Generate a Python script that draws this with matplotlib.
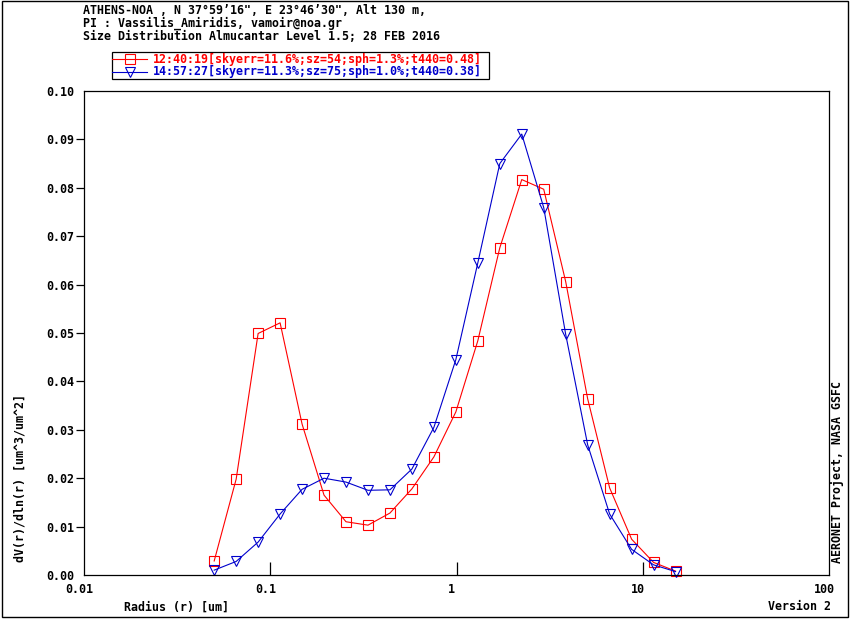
import matplotlib
matplotlib.use("Agg")
import matplotlib.pyplot as plt
from matplotlib.lines import Line2D
from matplotlib.patches import Rectangle
from matplotlib.ticker import FixedLocator, NullLocator
import matplotlib.transforms as mtransforms

radius = [0.05, 0.065604, 0.086077, 0.112939, 0.148184, 0.194429, 0.255105,
          0.334716, 0.439173, 0.576227, 0.756052, 0.991996, 1.301571, 1.707757,
          2.240702, 2.939966, 3.857452, 5.061260, 6.640745, 8.713145,
          11.432287, 15.0]
dv_1240 = [0.0029, 0.0198, 0.0499, 0.0521, 0.0312, 0.0165, 0.0110, 0.0103,
           0.0128, 0.0178, 0.0244, 0.0337, 0.0484, 0.0676, 0.0817, 0.0797,
           0.0606, 0.0364, 0.0180, 0.0074, 0.0026, 0.0008]
dv_1457 = [0.0010, 0.0028, 0.0068, 0.0126, 0.0177, 0.0200, 0.0192, 0.0175,
           0.0176, 0.0219, 0.0305, 0.0445, 0.0645, 0.0850, 0.0911, 0.0759,
           0.0497, 0.0269, 0.0126, 0.0053, 0.0021, 0.0007]
label_1240 = "12:40:19[skyerr=11.6%;sz=54;sph=1.3%;t440=0.48]"
label_1457 = "14:57:27[skyerr=11.3%;sz=75;sph=1.0%;t440=0.38]"
x_ticks = [0.01, 0.1, 1, 10, 100]
x_ticklabels = ["0.01", "0.1", "1", "10", "100"]
y_ticks = [0.00, 0.01, 0.02, 0.03, 0.04, 0.05, 0.06, 0.07, 0.08, 0.09, 0.10]
y_ticklabels = ["%.2f" % v for v in y_ticks]
header = ["ATHENS-NOA , N 37\u00b059\u201916\", E 23\u00b046\u201930\", Alt 130 m,",
          "PI : Vassilis_Amiridis, vamoir@noa.gr",
          "Size Distribution Almucantar Level 1.5; 28 FEB 2016"]

RED = "#ff0000"
BLUE = "#0000cc"
W, H = 850, 620
FONT = dict(family="DejaVu Sans Mono", weight="bold", size=8.4)

fig = plt.figure(figsize=(W / 100, H / 100), dpi=100)
fig.patch.set_facecolor("white")

def fx(px):
    return px / W

def fy(py):
    return 1 - py / H

ax = fig.add_axes([fx(84), fy(575), fx(829) - fx(84), (575 - 91) / H])
ax.set_xscale("log")
ax.set_xlim(0.01, 100)
ax.set_ylim(0, 0.10)

ax.plot(radius, dv_1240, color=RED, lw=0.8, marker="s", ms=6.5,
        mfc="none", mec=RED, mew=0.8, clip_on=False)
ax.plot(radius, dv_1457, color=BLUE, lw=0.8, marker="v", ms=6.5,
        mfc="none", mec=BLUE, mew=0.8, clip_on=False)

for s in ax.spines.values():
    s.set_linewidth(0.9)
    s.set_color("black")

ax.xaxis.set_major_locator(FixedLocator(x_ticks))
ax.xaxis.set_minor_locator(NullLocator())
ax.set_xticklabels(x_ticklabels, fontdict=FONT)
ax.tick_params(axis="x", direction="in", length=9.5, width=0.9, pad=5.5)
ax.set_yticks(y_ticks)
ax.set_yticklabels(y_ticklabels, fontdict=FONT)
ax.tick_params(axis="y", direction="out", length=5.5, width=0.9, pad=1.5)
fig.canvas.draw()
xt = ax.xaxis.get_major_ticks()
for i in (0, len(xt) - 1):
    xt[i].tick1line.set_visible(False)
yt = ax.yaxis.get_major_ticks()
for i in (0, len(yt) - 1):
    yt[i].tick1line.set_visible(False)
offset = mtransforms.ScaledTranslation(-5 / 100, 0, fig.dpi_scale_trans)
for lab in ax.get_xticklabels():
    lab.set_transform(lab.get_transform() + offset)

# header
for i, line in enumerate(header):
    fig.text(fx(83), fy(10 + i * 13.5), line, ha="left", va="center", **FONT)

# legend box
fig.add_artist(Rectangle((fx(112), fy(79)), fx(489) - fx(112), (79 - 52) / H,
                         transform=fig.transFigure, fill=False, ec="black", lw=0.9))
for yy, col, mk, lab in [(59, RED, "s", label_1240), (72, BLUE, "v", label_1457)]:
    fig.add_artist(Line2D([fx(112), fx(147)], [fy(yy), fy(yy)], color=col, lw=0.8,
                          transform=fig.transFigure))
    fig.add_artist(Line2D([fx(130)], [fy(yy)], color=col, marker=mk, ms=6.5, mfc="none",
                          mec=col, mew=0.8, transform=fig.transFigure))
    fig.text(fx(153), fy(yy), lab, color=col, ha="left", va="center", **FONT)

fig.text(fx(20), fy(478), "dV(r)/dln(r) [um^3/um^2]", rotation=90, ha="center",
         va="center", **FONT)
fig.text(fx(176), fy(607), "Radius (r) [um]", ha="center", va="center", **FONT)
fig.text(fx(831), fy(607), "Version 2", ha="right", va="center", **FONT)
fig.text(fx(837), fy(472), "AERONET Project, NASA GSFC", rotation=90, ha="center",
         va="center", **FONT)

# outer frame
fig.add_artist(Rectangle((fx(1.5), fy(617)), fx(848) - fx(1.5), (617 - 0.5) / H,
                         transform=fig.transFigure, fill=False, ec="black", lw=1.0))

fig.savefig("out.png", dpi=100, facecolor="white")
